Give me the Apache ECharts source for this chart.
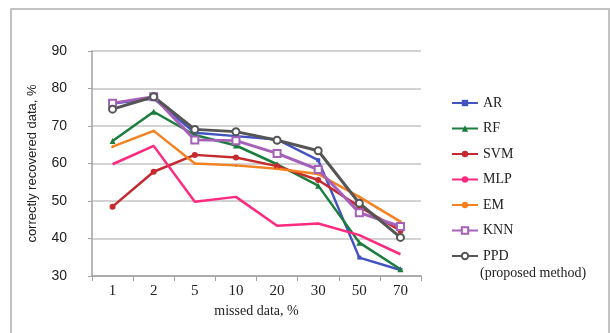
<!DOCTYPE html>
<html>
<head>
<meta charset="utf-8">
<script src="https://cdn.jsdelivr.net/npm/echarts@6/dist/echarts.min.js"></script>
<style>
html,body{margin:0;padding:0;background:#fff;}
#chart{width:611px;height:333px;}
</style>
</head>
<body>
<div id="chart"></div>
<script>
var categories = ['1', '2', '5', '10', '20', '30', '50', '70'];
var yTicks = [30, 40, 50, 60, 70, 80, 90];
var AR  = [76.0, 77.3, 68.2, 67.3, 66.4, 60.9, 34.9, 31.6];
var RF  = [66.0, 73.8, 67.6, 64.8, 59.8, 54.1, 38.9, 31.8];
var SVM = [48.5, 57.8, 62.3, 61.6, 59.3, 55.6, 48.5, 42.1];
var MLP = [59.8, 64.7, 49.8, 51.1, 43.4, 44.0, 40.9, 35.8];
var EM  = [64.5, 68.7, 60.0, 59.5, 58.6, 57.2, 51.1, 44.5];
var KNN = [76.1, 77.8, 66.3, 66.1, 62.7, 58.4, 46.9, 43.2];
var PPD = [74.5, 77.8, 69.1, 68.5, 66.2, 63.4, 49.4, 40.3];

var chart = echarts.init(document.getElementById('chart'), null, {renderer: 'canvas'});

function mk(name, data, color, symbol, size, width, borderW) {
  return {
    name: name, type: 'line', data: data,
    symbol: symbol, symbolSize: size, showSymbol: true,
    lineStyle: {color: color, width: width, type: 'solid'},
    itemStyle: {color: color, borderColor: color, borderWidth: borderW || 0},
    emphasis: {disabled: true},
    animation: false
  };
}

var option = {
  backgroundColor: '#fff',
  animation: false,
  graphic: [
    {type: 'rect', shape: {x: 11, y: 9, width: 598, height: 340},
     style: {fill: 'none', stroke: '#b0b0b0', lineWidth: 1.5}, z: -1},
    {type: 'text', left: 480, top: 266,
     style: {text: '(proposed method)', font: '14px "Liberation Serif"', fill: '#222'}}
  ],
  grid: {left: 92, right: 190, top: 51, bottom: 57, containLabel: false},
  legend: {
    orient: 'vertical', left: 446, top: 90,
    itemWidth: 26, itemHeight: 8, itemGap: 9.5,
    textStyle: {fontFamily: 'Liberation Serif', fontSize: 14, color: '#222', lineHeight: 16},
    data: ['AR', 'RF', 'SVM', 'MLP', 'EM', 'KNN', 'PPD']
  },
  xAxis: {
    type: 'category', data: categories, boundaryGap: true,
    name: 'missed data, %', nameLocation: 'middle', nameGap: 27,
    nameTextStyle: {fontFamily: 'Liberation Serif', fontSize: 14, color: '#222'},
    axisLine: {lineStyle: {color: '#a0a0a0', width: 1.5}},
    axisTick: {show: true, alignWithLabel: false, length: 5, lineStyle: {color: '#a0a0a0'}},
    axisLabel: {fontFamily: 'Liberation Serif', fontSize: 15, color: '#222', margin: 8},
    splitLine: {show: false}
  },
  yAxis: {
    type: 'value', min: 30, max: 90, interval: 10,
    name: 'correctly recovered data, %', nameLocation: 'middle', nameGap: 53,
    nameTextStyle: {fontFamily: 'Liberation Sans', fontSize: 13, color: '#222'},
    axisLine: {show: true, lineStyle: {color: '#a0a0a0', width: 1.5}},
    axisTick: {show: true, length: 4, lineStyle: {color: '#a0a0a0'}},
    axisLabel: {fontFamily: 'Liberation Sans', fontSize: 14, color: '#222', margin: 25,
      formatter: function (v) { return yTicks.indexOf(v) >= 0 ? String(v) : ''; }},
    splitLine: {show: true, lineStyle: {color: '#c4c4c4', width: 1.5}}
  },
  series: [
    mk('AR', AR, '#4353c0', 'rect', 4, 2.5),
    mk('RF', RF, '#1b7d3e', 'triangle', 6, 2.5),
    mk('SVM', SVM, '#c42a2e', 'circle', 6, 2.5),
    mk('MLP', MLP, '#ff2a80', 'none', 4, 2.5),
    mk('EM', EM, '#f58220', 'circle', 3, 2.5),
    mk('KNN', KNN, '#a560b8', 'emptyRect', 7, 3, 1.5),
    mk('PPD', PPD, '#555555', 'emptyCircle', 7, 3, 1.5)
  ]
};
chart.setOption(option);
</script>
</body>
</html>
